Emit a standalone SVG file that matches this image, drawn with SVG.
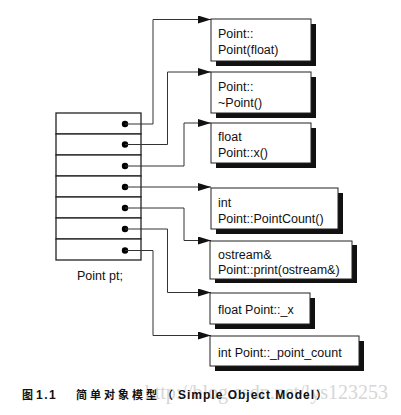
<svg xmlns="http://www.w3.org/2000/svg" width="401" height="415" viewBox="0 0 401 415">
<defs>
<marker id="ah" markerWidth="13" markerHeight="8" refX="13" refY="4" orient="auto" markerUnits="userSpaceOnUse">
<path d="M0,0 L13,4 L0,8 Z" fill="#111"/>
</marker>
<style>
.box{fill:#fff;stroke:#222;stroke-width:1}
.sh{fill:#111}
.t{font-family:"Liberation Sans",Arial,sans-serif;font-size:12.5px;fill:#111}
.row{fill:#fff;stroke:#222;stroke-width:1.3}
.dot{fill:#000}
.conn{fill:none;stroke:#333;stroke-width:1;marker-end:url(#ah)}
.cap{font-family:"Liberation Sans","Noto Sans CJK SC",sans-serif;font-size:12px;font-weight:bold;fill:#111}
.cj{font-family:"Noto Sans CJK SC",sans-serif;font-size:11px;font-weight:bold;fill:#111}
.wm{font-family:"Liberation Serif",serif;font-size:20px;fill:#d6d6d6}
</style>
</defs>
<rect width="401" height="415" fill="#fff"/>

<g id="object">
<rect class="row" x="56" y="113" width="85" height="21"/>
<rect class="row" x="56" y="134" width="85" height="21"/>
<rect class="row" x="56" y="155" width="85" height="21"/>
<rect class="row" x="56" y="176" width="85" height="21"/>
<rect class="row" x="56" y="197" width="85" height="21"/>
<rect class="row" x="56" y="218" width="85" height="21"/>
<rect class="row" x="56" y="239" width="85" height="21"/>
<circle class="dot" cx="125" cy="124" r="3.2"/>
<circle class="dot" cx="125" cy="144.5" r="3.2"/>
<circle class="dot" cx="125" cy="166" r="3.2"/>
<circle class="dot" cx="125" cy="187" r="3.2"/>
<circle class="dot" cx="125" cy="208" r="3.2"/>
<circle class="dot" cx="125" cy="229" r="3.2"/>
<circle class="dot" cx="125" cy="250.5" r="3.2"/>
<text class="t" x="77" y="280">Point pt;</text>
</g>

<g id="connectors">
<path class="conn" d="M125,124 H153 V19.5 H211"/>
<path class="conn" d="M125,144.5 H167.5 V72 H211"/>
<path class="conn" d="M125,166 H184 V123 H211"/>
<path class="conn" d="M125,187 H211"/>
<path class="conn" d="M125,208 H184 V240.5 H211"/>
<path class="conn" d="M125,229 H167.5 V292.5 H211"/>
<path class="conn" d="M125,250.5 H153 V335.5 H211"/>
</g>

<g id="n1">
<rect class="sh" x="216" y="24" width="100" height="42"/>
<rect class="box" x="211" y="19" width="100" height="42"/>
<text class="t" x="218" y="37.5">Point::</text>
<text class="t" x="218" y="54">Point(float)</text>
</g>
<g id="n2">
<rect class="sh" x="216" y="77" width="100" height="41"/>
<rect class="box" x="211" y="72" width="100" height="41"/>
<text class="t" x="218" y="90.5">Point::</text>
<text class="t" x="218" y="107">~Point()</text>
</g>
<g id="n3">
<rect class="sh" x="216" y="128" width="100" height="40"/>
<rect class="box" x="211" y="123" width="100" height="40"/>
<text class="t" x="218" y="141">float</text>
<text class="t" x="218" y="157">Point::x()</text>
</g>
<g id="n4">
<rect class="sh" x="216" y="193" width="127" height="41"/>
<rect class="box" x="211" y="188" width="127" height="41"/>
<text class="t" x="218" y="207">int</text>
<text class="t" x="218" y="223">Point::PointCount()</text>
</g>
<g id="n5">
<rect class="sh" x="215" y="245" width="142" height="38"/>
<rect class="box" x="210" y="241" width="142" height="38"/>
<text class="t" x="218" y="259">ostream&amp;</text>
<text class="t" x="218" y="274">Point::print(ostream&amp;)</text>
</g>
<g id="n6">
<rect class="sh" x="215" y="298" width="100" height="31"/>
<rect class="box" x="210" y="293" width="100" height="31"/>
<text class="t" x="218" y="314">float Point::_x</text>
</g>
<g id="n7">
<rect class="sh" x="215" y="341" width="149" height="30"/>
<rect class="box" x="210" y="336" width="149" height="30"/>
<text class="t" x="218" y="357">int Point::_point_count</text>
</g>

<g id="caption">
<text class="wm" x="388" y="399" text-anchor="end">http://blog.csdn.net/lys123253</text>
<text class="cj" x="22" y="399">图</text>
<text class="cap" x="36" y="399" letter-spacing="1.5">1.1</text>
<text class="cj" x="76" y="399" letter-spacing="3">简单对象模型</text>
<text class="cj" x="162" y="399">（</text>
<text class="cap" x="178" y="399" letter-spacing="1">Simple Object Model</text>
<text class="cj" x="316" y="399">）</text>
</g>
</svg>
